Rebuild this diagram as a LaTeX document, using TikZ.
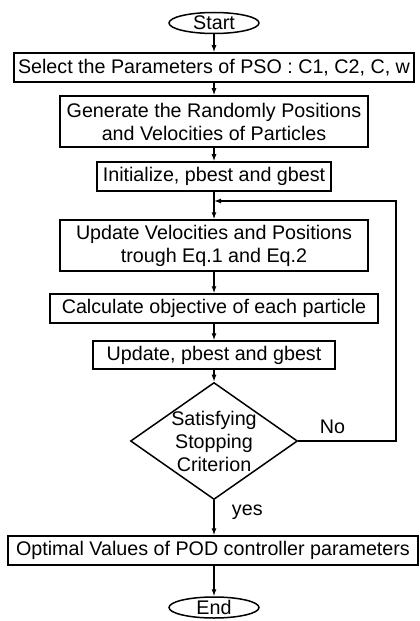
\documentclass[tikz,border=0pt]{standalone}
\usepackage{fontspec}
\setmainfont{Liberation Sans}
\usetikzlibrary{arrows.meta,shapes.geometric}

\begin{document}
\begin{tikzpicture}[x=1bp,y=1bp,
  every node/.style={font=\fontsize{19.7bp}{23bp}\selectfont},
  procbox/.style={draw, line width=1.5bp, align=center, inner sep=2bp},
  termnode/.style={draw, ellipse, line width=1.5bp, inner sep=0pt, minimum width=90bp, minimum height=21bp},
  decision/.style={draw, diamond, aspect=1.43, line width=1.5bp, inner sep=-4bp, minimum width=167bp, minimum height=117bp, align=center},
  flowarrow/.style={line width=1.3bp, -{Latex[length=7bp,width=5bp]}}]
\useasboundingbox (0,0) rectangle (419,-621);
\node[termnode] (start) at (214,-23) {Start};
\node[procbox, minimum width=400bp, minimum height=29bp] (params) at (214,-67.5) {Select the Parameters of PSO : C1, C2, C, w};
\node[procbox, minimum width=308bp, minimum height=51bp] (gen) at (214,-121.5) {Generate the Randomly Positions\\and Velocities of Particles};
\node[procbox, minimum width=234bp, minimum height=29bp] (init) at (214,-176.5) {Initialize, pbest and gbest};
\node[procbox, minimum width=308bp, minimum height=51bp] (upd) at (214,-245.5) {Update Velocities and Positions\\trough Eq.1 and Eq.2};
\node[procbox, minimum width=328bp, minimum height=29bp] (calc) at (214,-308.5) {Calculate objective of each particle};
\node[procbox, minimum width=242bp, minimum height=28bp] (best) at (214,-355) {Update, pbest and gbest};
\node[decision] (check) at (214,-441) {Satisfying\\Stopping\\Criterion};
\node[procbox, minimum width=410bp, minimum height=29bp] (opt) at (213,-550.5) {Optimal Values of POD controller parameters};
\node[termnode] (end) at (214,-607.5) {End};
\coordinate (join) at (214,-201);
\coordinate (loopcorner) at (396,-441);
% main flow
\draw[flowarrow] (start) -- (params);
\draw[flowarrow] (params) -- (gen);
\draw[flowarrow] (gen) -- (init);
\draw[flowarrow] (init) -- (upd);
\draw[flowarrow] (upd) -- (calc);
\draw[flowarrow] (calc) -- (best);
\draw[flowarrow] (best) -- (check);
\draw[flowarrow] (check.south) -- node[pos=0.35, right, xshift=14bp] {yes} (check.south |- opt.north);
\draw[flowarrow] (opt.south -| end.north) -- (end.north);
% loop back
\draw[flowarrow] (check.east) -- node[pos=0.35, above, yshift=3bp] {No} (loopcorner) |- (join);
\end{tikzpicture}
\end{document}
